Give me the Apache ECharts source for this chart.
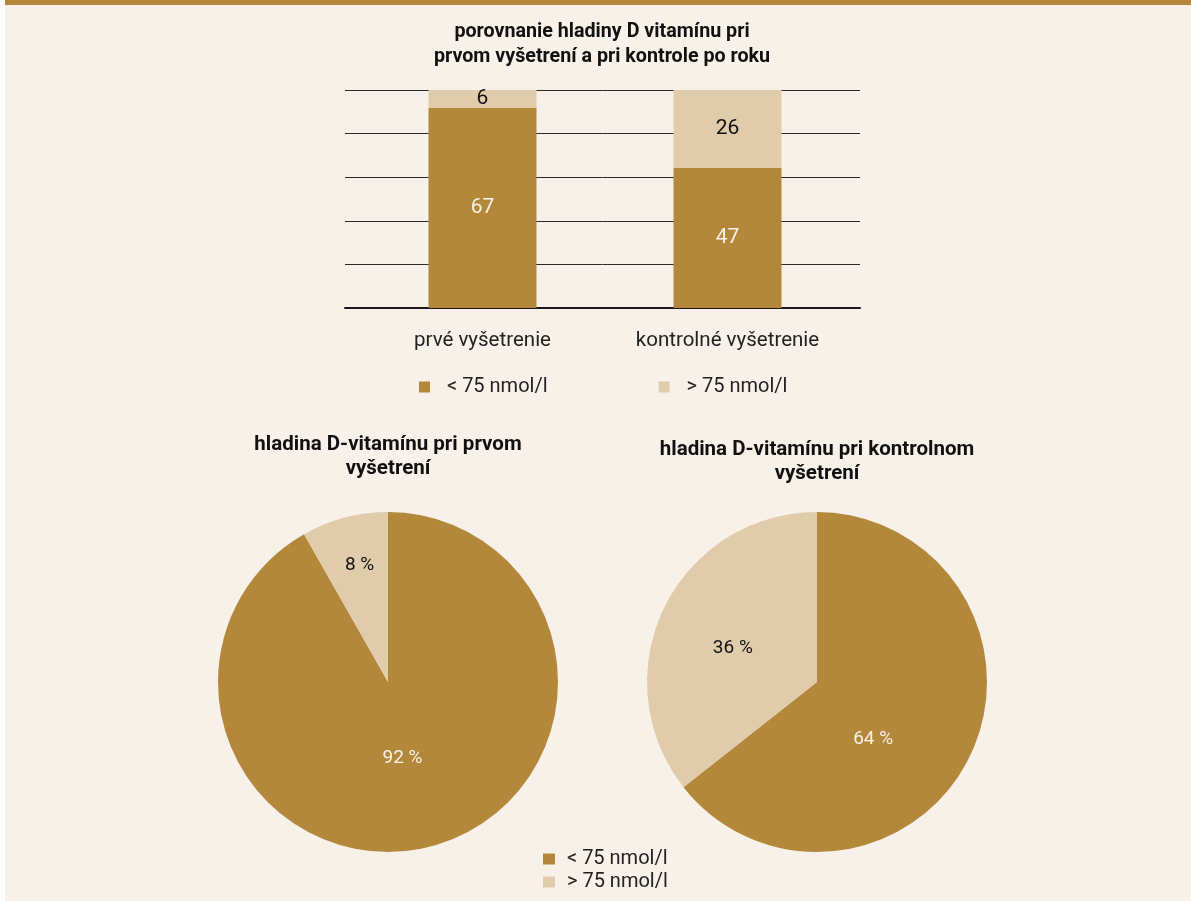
<!DOCTYPE html>
<html>
<head>
<meta charset="utf-8">
<script src="https://cdn.jsdelivr.net/npm/echarts@6/dist/echarts.min.js"></script>
<style>
  html, body { margin: 0; padding: 0; background: #ffffff; }
  #chart { width: 1191px; height: 901px; }
</style>
</head>
<body>
<div id="chart"></div>
<script>
// udaje z grafu
const categories = ['prvé vyšetrenie', 'kontrolné vyšetrenie'];
const seriesNames = ['< 75 nmol/l', '> 75 nmol/l'];
const lowValues = [67, 47];   // < 75 nmol/l
const highValues = [6, 26];   // > 75 nmol/l
const pieTitles = ['hladina D-vitamínu pri prvom\nvyšetrení', 'hladina D-vitamínu pri kontrolnom\nvyšetrení'];

const GOLD = '#b3883b';
const LIGHT = '#e0cbab';
const BG = '#f8f1ea';
const FONT = 'Roboto';

// posun popiskov v kolacoch (ako v povodnom grafe)
const pieLabelShift = [
  [[-8, -9], [-6, -32]],
  [[-23, 19], [-5, 5]]
];

const chart = echarts.init(document.getElementById('chart'));

const pieSeries = [0, 1].map(i => ({
  type: 'pie',
  center: [i === 0 ? 388 : 817, 682],
  radius: 170,
  startAngle: 90,
  clockwise: true,
  avoidLabelOverlap: false,
  silent: true,
  label: {
    show: true,
    position: 'inside',
    fontFamily: FONT,
    fontSize: 19,
    formatter: p => Math.round(p.percent) + ' %'
  },
  labelLine: { show: false },
  labelLayout: params => {
    const s = pieLabelShift[i][params.dataIndex];
    return { dx: s[0], dy: s[1] };
  },
  data: [
    { name: seriesNames[0], value: lowValues[i], itemStyle: { color: GOLD }, label: { color: BG } },
    { name: seriesNames[1], value: highValues[i], itemStyle: { color: LIGHT }, label: { color: '#111' } }
  ]
}));

const option = {
  backgroundColor: BG,
  animation: false,
  textStyle: { fontFamily: FONT },
  graphic: [
    { type: 'rect', shape: { x: 0, y: 0, width: 1191, height: 5 }, style: { fill: GOLD }, z: 10 },
    { type: 'rect', shape: { x: 0, y: 0, width: 5, height: 901 }, style: { fill: '#ffffff' }, z: 11 }
  ],
  title: [
    {
      text: 'porovnanie hladiny D vitamínu pri\nprvom vyšetrení a pri kontrole po roku',
      left: 597, top: 15, textAlign: 'center',
      textStyle: { fontFamily: FONT, fontSize: 19.7, fontWeight: 'bold', color: '#111', lineHeight: 25 }
    },
    {
      text: pieTitles[0],
      left: 383, top: 428, textAlign: 'center',
      textStyle: { fontFamily: FONT, fontSize: 20.5, fontWeight: 'bold', color: '#111', lineHeight: 24 }
    },
    {
      text: pieTitles[1],
      left: 812, top: 433, textAlign: 'center',
      textStyle: { fontFamily: FONT, fontSize: 20.5, fontWeight: 'bold', color: '#111', lineHeight: 24 }
    }
  ],
  legend: [
    {
      data: seriesNames,
      left: 414, top: 372,
      itemWidth: 11, itemHeight: 11, itemGap: 111,
      icon: 'rect',
      textStyle: { fontFamily: FONT, fontSize: 20, color: '#222', padding: [0, 0, 0, 12] }
    },
    {
      data: seriesNames,
      orient: 'vertical',
      left: 538, top: 844,
      itemWidth: 12, itemHeight: 11, itemGap: 3,
      icon: 'rect',
      textStyle: { fontFamily: FONT, fontSize: 20, color: '#222', padding: [0, 0, 0, 7] }
    }
  ],
  grid: [
    { left: 360, width: 490, top: 90, height: 218 },   // stlpce
    { left: 345, width: 515, top: 90, height: 218 }    // mriezka
  ],
  xAxis: [
    {
      type: 'category', gridIndex: 0, data: categories,
      axisLine: { show: false }, axisTick: { show: false },
      axisLabel: { margin: 22, fontFamily: FONT, fontSize: 20.5, color: '#222' }
    },
    {
      type: 'category', gridIndex: 1, data: [''],
      axisLine: { show: true, lineStyle: { color: '#1a1a1a', width: 2 } },
      axisTick: { show: false }, axisLabel: { show: false }
    }
  ],
  yAxis: [
    {
      type: 'value', gridIndex: 0, min: 0, max: 73, interval: 14.6,
      show: false, splitLine: { show: false }
    },
    {
      type: 'value', gridIndex: 1, min: 0, max: 73, interval: 14.6,
      axisLine: { show: false }, axisTick: { show: false }, axisLabel: { show: false },
      splitLine: { show: true, lineStyle: { color: '#2a2a2a', width: 1 } }
    }
  ],
  series: [
    {
      name: seriesNames[0], type: 'bar', stack: 'a', xAxisIndex: 0, yAxisIndex: 0,
      barWidth: 108, data: lowValues,
      itemStyle: { color: GOLD },
      label: { show: true, position: 'inside', color: BG, fontFamily: FONT, fontSize: 21 }
    },
    {
      name: seriesNames[1], type: 'bar', stack: 'a', xAxisIndex: 0, yAxisIndex: 0,
      barWidth: 108, data: highValues,
      itemStyle: { color: LIGHT },
      label: { show: true, position: 'inside', color: '#111', fontFamily: FONT, fontSize: 21 }
    },
    ...pieSeries
  ]
};

chart.setOption(option);
</script>
</body>
</html>
